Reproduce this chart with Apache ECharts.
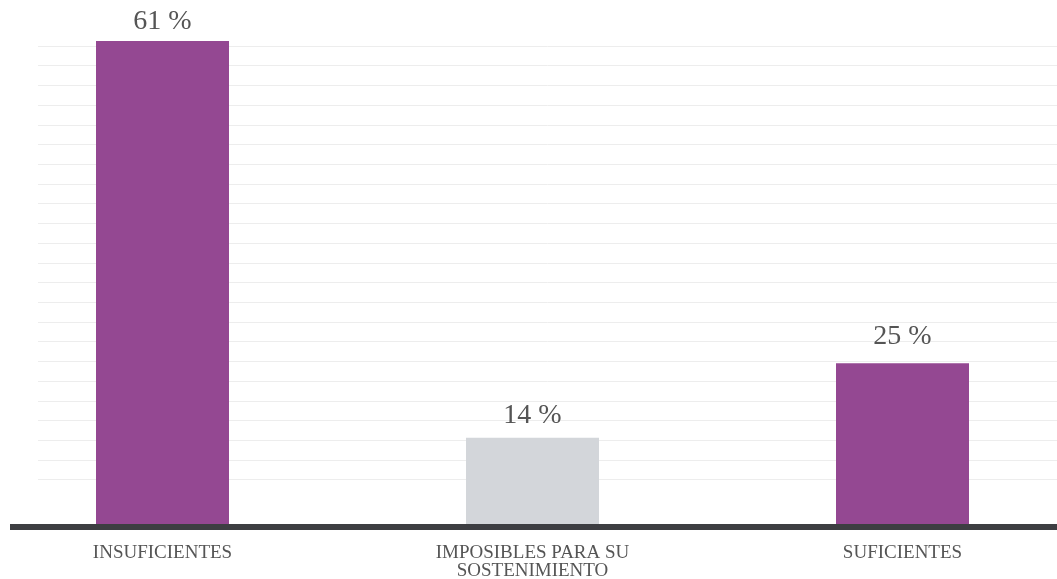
<!DOCTYPE html>
<html>
<head>
<meta charset="utf-8">
<script src="https://cdn.jsdelivr.net/npm/echarts@6/dist/echarts.min.js"></script>
<style>html,body{margin:0;padding:0;background:#fff;}#c{width:1057px;height:579px;}</style>
</head>
<body>
<div id="c"></div>
<script>
const categories = ['INSUFICIENTES', 'IMPOSIBLES PARA SU\nSOSTENIMIENTO', 'SUFICIENTES'];
const labelValues = [61, 14, 25];
// bar lengths as drawn in the picture (percentage units, 61 = tallest bar)
const barLengths = [61, 10.9, 20.3];
const barColors = ['#944892', '#d3d6da', '#944892'];
const gridTicks = 22;

const chart = echarts.init(document.getElementById('c'));
const labelDistances = [5, 8, 13];
chart.setOption({
  animation: false,
  backgroundColor: '#fff',
  grid: [
    { left: -22.5, width: 1110, top: 41, bottom: 55, outerBoundsMode: 'none', containLabel: false },
    { left: 38, right: 0, top: 46, bottom: 99.3, outerBoundsMode: 'none' },
    { left: 10, right: 0, top: 100, bottom: 52.5, outerBoundsMode: 'none' }
  ],
  xAxis: [
    { gridIndex: 0, type: 'category', data: categories,
      axisLine: { show: false }, axisTick: { show: false },
      axisLabel: { margin: 20, fontFamily: 'Liberation Serif', fontSize: 19, lineHeight: 18, color: '#555', interval: 0 } },
    { gridIndex: 1, type: 'value', show: false },
    { gridIndex: 2, type: 'value', min: 0, max: 1,
      axisLine: { show: true, lineStyle: { color: '#3d3e42', width: 6, cap: 'butt' } },
      axisTick: { show: false }, axisLabel: { show: false }, splitLine: { show: false } }
  ],
  yAxis: [
    { gridIndex: 0, type: 'value', min: 0, max: 61, show: false, splitLine: { show: false } },
    { gridIndex: 1, type: 'value', min: 0, max: gridTicks, interval: 1,
      axisLine: { show: false }, axisTick: { show: false }, axisLabel: { show: false },
      splitLine: { show: true, lineStyle: { color: '#ededed', width: 1 } } },
    { gridIndex: 2, type: 'value', show: false }
  ],
  series: [{
    type: 'bar', xAxisIndex: 0, yAxisIndex: 0, barWidth: 133, z: 3,
    data: barLengths.map((v, i) => ({
      value: v,
      itemStyle: { color: barColors[i] },
      label: { distance: labelDistances[i] }
    })),
    label: {
      show: true, position: 'top',
      fontFamily: 'Liberation Serif', fontSize: 28, color: '#555',
      formatter: p => labelValues[p.dataIndex] + ' %'
    }
  }]
});
</script>
</body>
</html>
